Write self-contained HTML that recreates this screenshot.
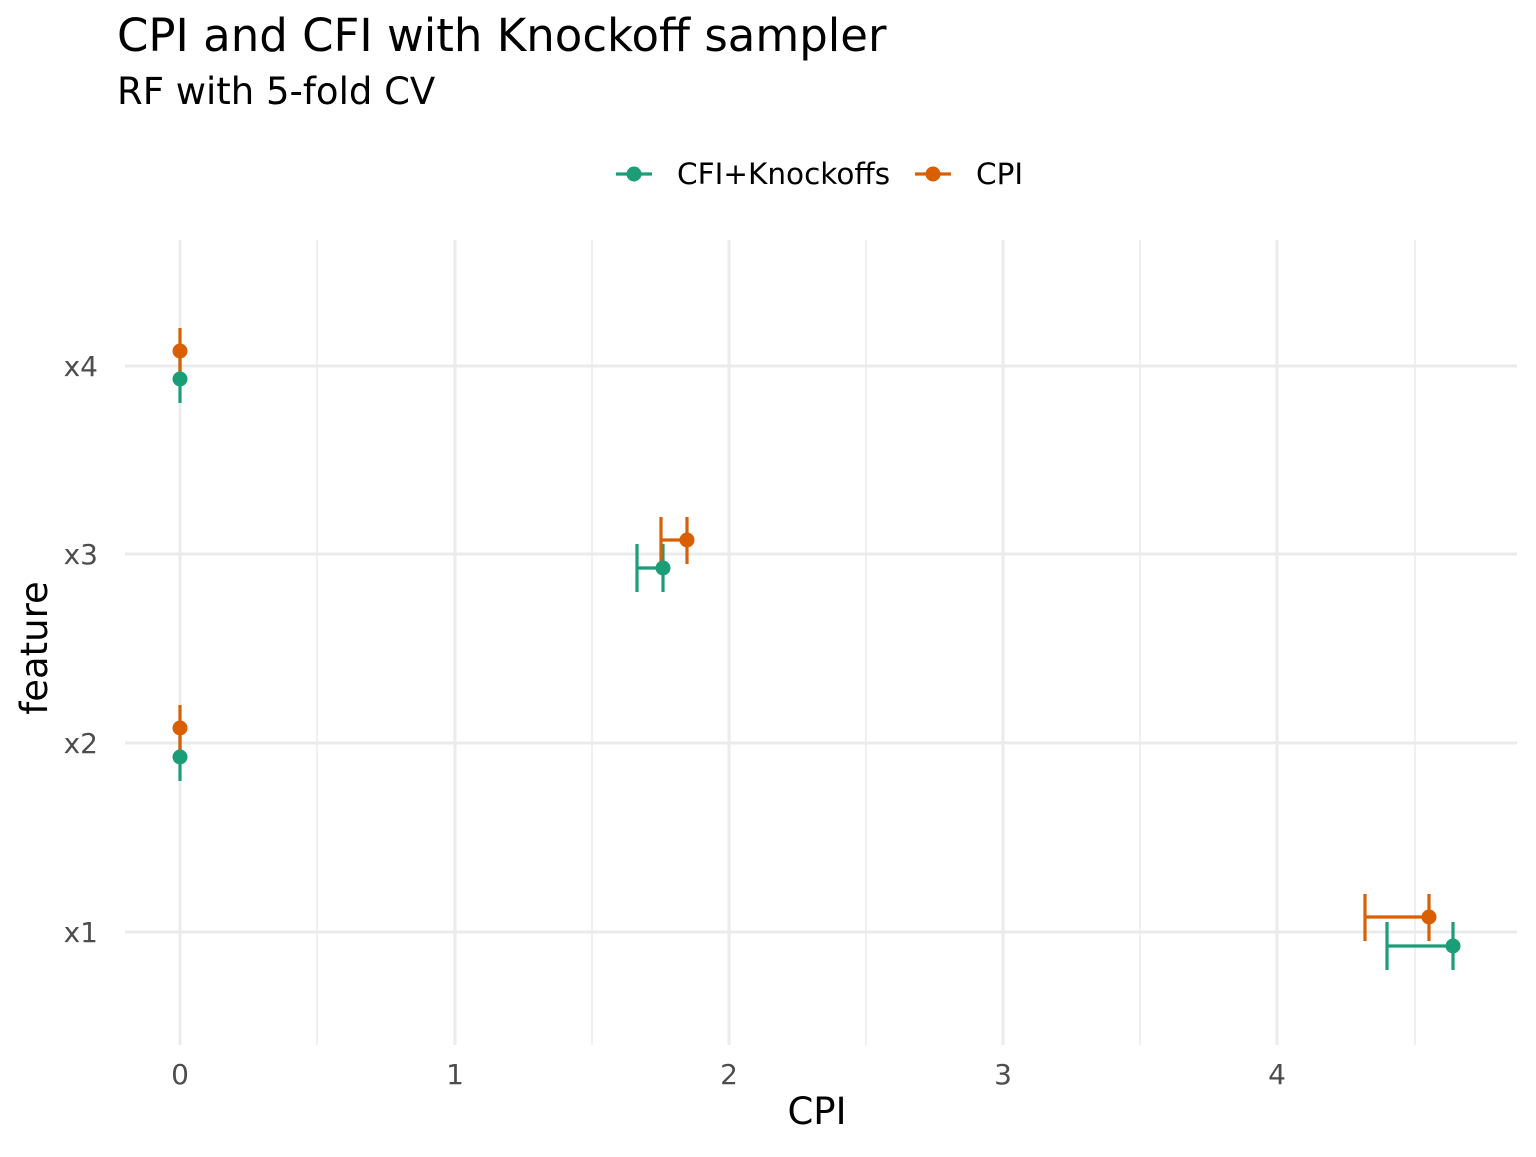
<!DOCTYPE html>
<html><head><meta charset="utf-8"><style>html,body{margin:0;padding:0;background:#fff}</style></head>
<body>
<svg width="1536" height="1152" xmlns="http://www.w3.org/2000/svg" font-family="'DejaVu Sans','Liberation Sans',sans-serif">
<rect width="1536" height="1152" fill="#fff"/>
<g stroke="#ebebeb" stroke-width="1.5">
<line x1="317" y1="240" x2="317" y2="1045"/><line x1="592" y1="240" x2="592" y2="1045"/>
<line x1="866" y1="240" x2="866" y2="1045"/><line x1="1140" y1="240" x2="1140" y2="1045"/>
<line x1="1415" y1="240" x2="1415" y2="1045"/>
</g>
<g stroke="#ebebeb" stroke-width="3">
<line x1="180" y1="240" x2="180" y2="1045"/><line x1="455" y1="240" x2="455" y2="1045"/>
<line x1="729" y1="240" x2="729" y2="1045"/><line x1="1003" y1="240" x2="1003" y2="1045"/>
<line x1="1277" y1="240" x2="1277" y2="1045"/>
<line x1="125" y1="366" x2="1517" y2="366"/><line x1="125" y1="554" x2="1517" y2="554"/>
<line x1="125" y1="743" x2="1517" y2="743"/><line x1="125" y1="932" x2="1517" y2="932"/>
</g>
<g stroke-width="3.2" fill="none">
<g stroke="#1B9E77">
<line x1="180" y1="356" x2="180" y2="403"/>
<line x1="180" y1="734" x2="180" y2="781"/>
<path d="M637 544V592M637 568H663M663 544V592"/>
<path d="M1387 922V970M1387 946H1453M1453 922V970"/>
</g>
<g stroke="#D95F02">
<line x1="180" y1="328" x2="180" y2="375"/>
<line x1="180" y1="705" x2="180" y2="752"/>
<path d="M661 517V564M661 540H687M687 517V564"/>
<path d="M1365 894V941M1365 917H1429M1429 894V941"/>
</g>
</g>
<g fill="#1B9E77"><circle cx="180" cy="379" r="7.5"/><circle cx="180" cy="757" r="7.5"/><circle cx="663" cy="568" r="7.5"/><circle cx="1453" cy="946" r="7.5"/></g>
<g fill="#D95F02"><circle cx="180" cy="351" r="7.5"/><circle cx="180" cy="728" r="7.5"/><circle cx="687" cy="540" r="7.5"/><circle cx="1429" cy="917" r="7.5"/></g>
<g font-size="28" fill="#4d4d4d" text-anchor="end">
<text x="98" y="376">x4</text><text x="98" y="564">x3</text><text x="98" y="753">x2</text><text x="98" y="942">x1</text>
</g>
<g font-size="28" fill="#4d4d4d" text-anchor="middle">
<text x="180" y="1084">0</text><text x="455" y="1084">1</text><text x="729" y="1084">2</text><text x="1003" y="1084">3</text><text x="1277" y="1084">4</text>
</g>
<text x="817" y="1124" font-size="37" text-anchor="middle" fill="#000">CPI</text>
<text transform="translate(47,648) rotate(-90)" font-size="37" text-anchor="middle" fill="#000">feature</text>
<text x="117" y="51" font-size="45" fill="#000">CPI and CFI with Knockoff sampler</text>
<text x="117" y="104" font-size="37" fill="#000">RF with 5-fold CV</text>
<line x1="616" y1="174" x2="652" y2="174" stroke="#1B9E77" stroke-width="3.2"/><circle cx="634" cy="174" r="7.5" fill="#1B9E77"/>
<text x="677" y="184" font-size="29.5" fill="#000">CFI+Knockoffs</text>
<line x1="915" y1="174" x2="951" y2="174" stroke="#D95F02" stroke-width="3.2"/><circle cx="933" cy="174" r="7.5" fill="#D95F02"/>
<text x="976" y="184" font-size="29.5" fill="#000">CPI</text>
</svg>
</body></html>
